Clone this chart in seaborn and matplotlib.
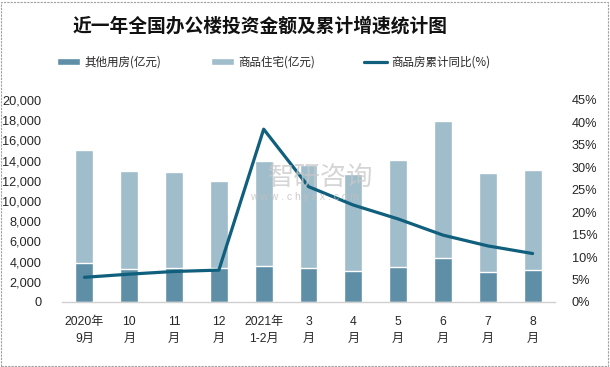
import numpy as np
import pandas as pd
import matplotlib
matplotlib.use("Agg")
import matplotlib.pyplot as plt
import seaborn as sns
from matplotlib.patches import Patch, Rectangle
from matplotlib.lines import Line2D

sns.set_theme(style="white")
plt.rcParams['font.family'] = ['Liberation Sans', 'Noto Sans CJK SC', 'DejaVu Sans']

categories = ["2020年\n9月", "10\n月", "11\n月", "12\n月", "2021年\n1-2月", "3\n月",
              "4\n月", "5\n月", "6\n月", "7\n月", "8\n月"]
other = [3900, 3300, 3400, 3400, 3600, 3400, 3100, 3500, 4400, 3000, 3200]
residential = [11100, 9700, 9500, 8600, 10400, 10200, 9600, 10600, 13500, 9800, 9900]
growth = [5.5, 6.2, 6.8, 7.1, 38.5, 25.7, 21.6, 18.5, 14.9, 12.5, 10.8]

c_other = "#5E8FA6"
c_res = "#A0BDCB"
c_line = "#0F5F7D"

df = pd.DataFrame({"cat": categories, "other": other, "res": residential, "growth": growth})
df["total"] = df["other"] + df["res"]

fig = plt.figure(figsize=(6.1, 3.67), dpi=100)
ax = fig.add_axes([62/610, 1-302/367, (555-62)/610, (302-100)/367])

sns.barplot(data=df, x="cat", y="total", color=c_res, width=0.4, ax=ax, saturation=1)
sns.barplot(data=df, x="cat", y="other", color=c_other, width=0.4, ax=ax, saturation=1)
ax.set_ylim(0, 20000)
ax.set_yticks(np.arange(0, 20001, 2000))
ax.set_yticklabels([f"{v:,}" for v in range(0, 20001, 2000)], fontsize=9.2)
ax.set_xlabel("")
ax.set_ylabel("")
ax.tick_params(axis="y", length=0, pad=15)
ax.tick_params(axis="x", length=0, pad=10, labelsize=8.7)
for lab in ax.get_xticklabels():
    lab.set_linespacing(1.6)
for s in ["top", "left", "right"]:
    ax.spines[s].set_visible(False)
ax.spines["bottom"].set_color("#D0D0D0")
ax.spines["bottom"].set_linewidth(1)

ax2 = ax.twinx()
sns.lineplot(x=np.arange(len(categories)), y=df["growth"], color=c_line, linewidth=2.3, ax=ax2)
ax2.set_ylim(0, 45)
ax2.set_yticks(np.arange(0, 46, 5))
ax2.set_yticklabels([f"{v}%" for v in range(0, 46, 5)], fontsize=9.2)
ax2.tick_params(axis="y", length=0, pad=12)
ax2.set_ylabel("")
for s in ["top", "left", "right", "bottom"]:
    ax2.spines[s].set_visible(False)
ax.set_xlim(-0.5, len(categories) - 0.5)

# watermark (on top of the bars)
fig.text(321/610, 1-177/367, "智研咨询", fontsize=19, color="#C8C8C8", alpha=0.75,
         ha="center", va="center", family=['Noto Sans CJK SC'], zorder=20)
fig.text(305/610, 1-197/367, "w w w . c h y x x . c o m", fontsize=7.5, color="#C0C0C0",
         alpha=0.8, ha="center", va="center", zorder=20)

fig.text(260/610, 1-26/367, "近一年全国办公楼投资金额及累计增速统计图", fontsize=13.5,
         fontweight="bold", ha="center", va="center", color="#111111",
         family=['Noto Sans CJK SC'])

handles = [Patch(facecolor=c_other), Patch(facecolor=c_res),
           Line2D([0], [0], color=c_line, linewidth=2.3)]
labels = ["其他用房(亿元)", "商品住宅(亿元)", "商品房累计同比(%)"]
fig.legend(handles, labels, loc="center left", bbox_to_anchor=(47/610, 1-62/367),
           ncol=3, frameon=False, handlelength=2.0, handleheight=0.6,
           handletextpad=0.35, columnspacing=4.3, prop={'family': ['Noto Sans CJK SC'], 'size': 8.3})

fig.add_artist(Rectangle((1/610, 1/367), 607/610, 364/367, transform=fig.transFigure,
                         fill=False, edgecolor="#A0A0A0", linewidth=0.8, linestyle=(0, (2, 1))))

fig.savefig("out.png", dpi=100)
